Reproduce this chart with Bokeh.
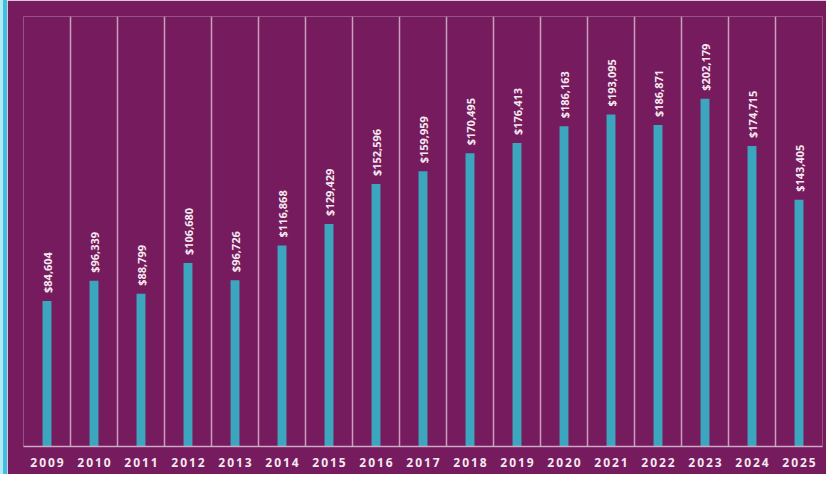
import numpy as np
from bokeh.plotting import figure
from bokeh.models import ColumnDataSource, FixedTicker, Range1d, Spacer
from bokeh.layouts import row
from bokeh.core.properties import value
from bokeh.embed import file_html
from bokeh.resources import INLINE

years = ["2009", "2010", "2011", "2012", "2013", "2014", "2015", "2016", "2017",
         "2018", "2019", "2020", "2021", "2022", "2023", "2024", "2025"]
amounts = [84604, 96339, 88799, 106680, 96726, 116868, 129429, 152596, 159959,
           170495, 176413, 186163, 193095, 186871, 202179, 174715, 143405]

BG = "#761b5d"
BAR = "#3ca6be"
TXT = "#f4e9f1"
GRID = "#d9b6d1"

n = len(years)
xs = list(range(n))
labels = ["${:,}".format(v) for v in amounts]
source = ColumnDataSource(dict(x=xs, y=amounts, label=labels))

p = figure(width=819, height=474, output_backend="svg", toolbar_location=None,
           x_range=Range1d(-0.5, n - 0.5), y_range=Range1d(0, 250000),
           min_border_left=16, min_border_right=4, min_border_top=16, min_border_bottom=28,
           background_fill_color=BG, border_fill_color=BG)
p.outline_line_color = None

p.vbar(x="x", top="y", bottom=0, width=0.19, source=source,
       fill_color=BAR, line_color=None)

p.text(x="x", y="y", text="label", source=source, angle=np.pi / 2,
       text_align="left", text_baseline="middle", y_offset=-8,
       text_color=TXT, text_font=value("Open Sans"), text_font_style="bold",
       text_font_size="11px")

p.yaxis.visible = False
p.ygrid.grid_line_color = None
p.xgrid.ticker = FixedTicker(ticks=[i - 0.5 for i in range(n + 1)])
p.xgrid.grid_line_color = GRID
p.xgrid.grid_line_width = 1.5
p.xgrid.grid_line_alpha = 0.85

p.xaxis.ticker = FixedTicker(ticks=xs)
p.xaxis.major_label_overrides = {i: "\u2009".join(y) for i, y in enumerate(years)}
p.xaxis.axis_line_color = GRID
p.xaxis.axis_line_width = 1.5
p.xaxis.axis_line_alpha = 0.85
p.xaxis.major_tick_line_color = None
p.xaxis.minor_tick_line_color = None
p.xaxis.major_tick_out = 0
p.xaxis.major_tick_in = 0
p.xaxis.minor_tick_out = 0
p.xaxis.major_label_standoff = 7
p.xaxis.major_label_text_color = TXT
p.xaxis.major_label_text_font = "Open Sans"
p.xaxis.major_label_text_font_style = "bold"
p.xaxis.major_label_text_font_size = "12px"

strip = Spacer(width=7, height=474,
               styles={"background": "linear-gradient(to right, #b5e9f5 0px, #b5e9f5 3px, #3cc1e1 3px, #3cc1e1 7px)"})

layout = row(strip, p, spacing=0)

open("out.html", "w").write(file_html(layout, INLINE))
